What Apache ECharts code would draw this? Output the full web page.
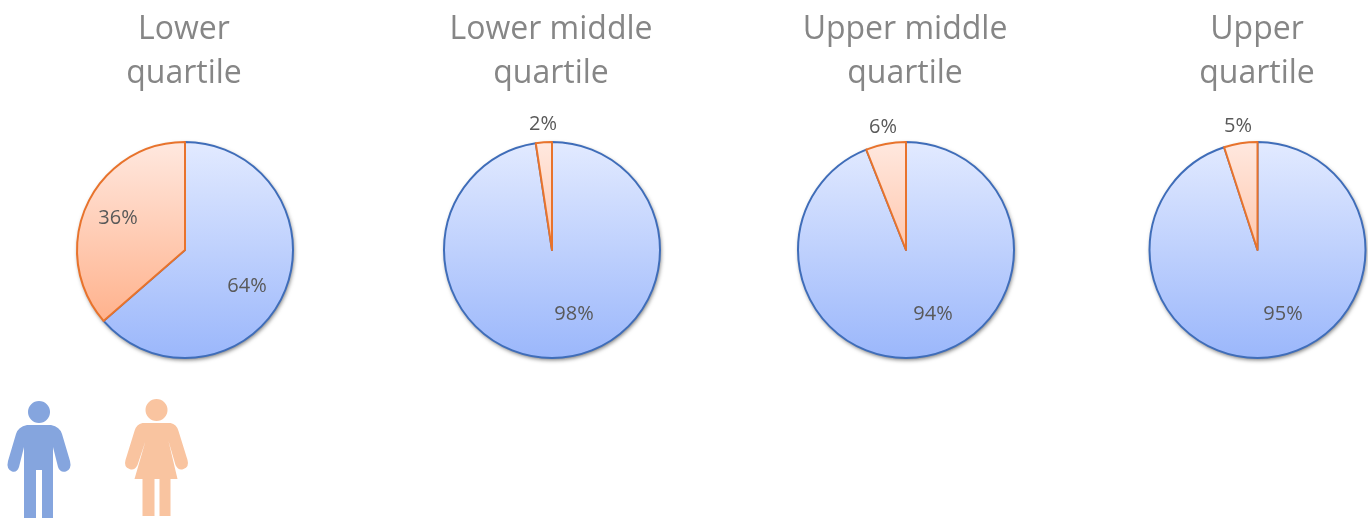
<!DOCTYPE html>
<html>
<head>
<meta charset="utf-8">
<style>
  html, body { margin: 0; background: #fff; }
  #chart { width: 1368px; height: 520px; }
</style>
<script src="https://cdn.jsdelivr.net/npm/echarts@6/dist/echarts.min.js"></script>
</head>
<body>
<div id="chart"></div>
<script>
const quartiles = ['Lower\nquartile', 'Lower middle\nquartile', 'Upper middle\nquartile', 'Upper\nquartile']
const groups = ['Male', 'Female']
// slice sizes as drawn, the labels show them rounded
const maleShare = [63.6, 97.6, 94, 95]
const femaleShare = [36.4, 2.4, 6, 5]

// layout
const centersX = [185, 552, 906, 1257.5]
const centerY = 250
const radius = 108
const malePercentSpot = [[247, 286], [574, 314], [933, 314], [1283, 314]]
const femalePercentSpot = [[118, 218], [543, 124], [883, 127], [1238, 126]]

const fade = (top, bottom) => ({
  type: 'linear',
  global: true,
  x: 0, y: centerY - radius, x2: 0, y2: centerY + radius,
  colorStops: [{ offset: 0, color: top }, { offset: 1, color: bottom }]
})

const slice = (fill, line) => ({
  color: fill,
  borderColor: line,
  borderWidth: 2
})

const series = quartiles.map((q, i) => ({
  type: 'pie',
  name: q,
  z: 3,
  center: [centersX[i], centerY],
  radius: radius,
  startAngle: 90,
  clockwise: true,
  silent: true,
  animation: false,
  label: {
    show: true,
    position: 'inside',
    formatter: p => Math.round(p.value) + '%',
    color: '#595959',
    fontFamily: 'Open Sans',
    fontSize: 20
  },
  labelLine: { show: false },
  labelLayout: p => {
    const spot = p.dataIndex === 0 ? malePercentSpot[i] : femalePercentSpot[i]
    return { x: spot[0], y: spot[1], align: 'center', verticalAlign: 'middle' }
  },
  data: [
    { name: groups[0], value: maleShare[i], itemStyle: slice(fade('#e2eaff', '#9bb7fb'), '#3f6db9') },
    { name: groups[1], value: femaleShare[i], itemStyle: slice(fade('#ffe8df', '#ffa77c'), '#e8732c') }
  ]
}))

const titles = quartiles.map((q, i) => ({
  text: q,
  left: Math.round(centersX[i]) - 6,
  top: 3,
  textAlign: 'center',
  textStyle: {
    color: '#868686',
    fontFamily: 'Open Sans',
    fontSize: 32,
    fontWeight: 'normal',
    lineHeight: 44
  }
}))

// soft shadow that sits under each pie
series.push({
  type: 'custom',
  coordinateSystem: 'none',
  silent: true,
  animation: false,
  z: 1,
  data: centersX.map((x, i) => i),
  renderItem: (params, api) => ({
    type: 'circle',
    shape: { cx: centersX[api.value(0)], cy: centerY, r: radius },
    style: { fill: '#fff', shadowColor: 'rgba(0,0,0,0.55)', shadowBlur: 4, shadowOffsetX: 1, shadowOffsetY: 2 }
  })
})

const manPath = 'M39 401a11 11 0 1 0 .01 0ZM27 425H51Q60 427 62 434L70 461Q72 469 66 471.5Q60 473 58 467L53 447V518H42V470H36V518H24V447L19 467Q17 473 12 471.5Q6 469 8 461L16 434Q18 427 27 425Z'
const womanPath = 'M157 399a11 11 0 1 0 .01 0ZM143 423H171Q177 424 179 431L188 460Q190 467 184 469Q179 471 176 465L169 441L178 479H171V516H160V479H155V516H143V479H135L146 441L138 465Q135 471 130 469Q124 467 126 460L135 431Q137 424 143 423Z'
const figures = [
  { pathData: manPath, x: 7.5, y: 401, width: 63, height: 117, fill: '#85a5de' },
  { pathData: womanPath, x: 125, y: 399, width: 63, height: 117, fill: '#f9c4a0' }
]

series.push({
  type: 'custom',
  coordinateSystem: 'none',
  silent: true,
  animation: false,
  data: figures.map((f, i) => i),
  renderItem: (params, api) => {
    const f = figures[api.value(0)]
    return {
      type: 'path',
      shape: { pathData: f.pathData, layout: 'cover', x: f.x, y: f.y, width: f.width, height: f.height },
      style: { fill: f.fill }
    }
  }
})

const chart = echarts.init(document.getElementById('chart'))
chart.setOption({
  backgroundColor: '#fff',
  title: titles,
  series: series
})
</script>
</body>
</html>
